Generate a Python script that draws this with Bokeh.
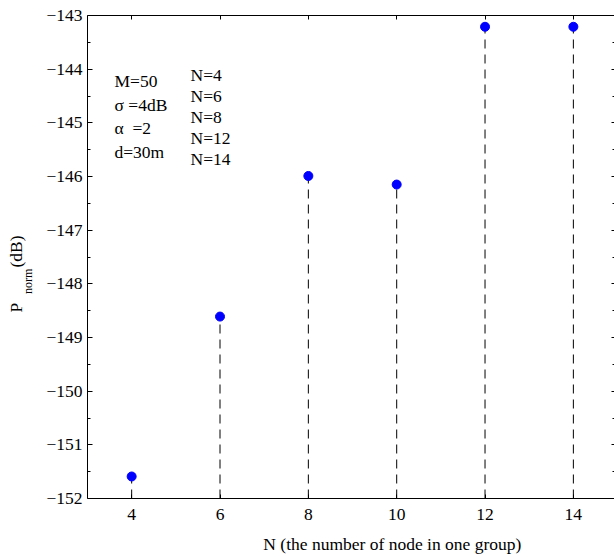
from bokeh.plotting import figure
from bokeh.models import Range1d, LinearAxis, FixedTicker, Label, ColumnDataSource
from bokeh.layouts import row, column
from bokeh.embed import file_html
from bokeh.resources import INLINE
import math

# ---- data ----
N_values = [4, 6, 8, 10, 12, 14]
P_norm = [-151.59, -148.61, -145.99, -146.15, -143.21, -143.21]
stem_base = -152
x_ticks = [4, 6, 8, 10, 12, 14]
y_ticks = [-152, -151, -150, -149, -148, -147, -146, -145, -144, -143]
y_tick_labels = ["\u2212152", "\u2212151", "\u2212150", "\u2212149", "\u2212148",
                 "\u2212147", "\u2212146", "\u2212145", "\u2212144", "\u2212143"]
y_minor = [-151.5, -150.5, -149.5, -148.5, -147.5, -146.5, -145.5, -144.5, -143.5]
params_text = ["M=50", "\u03c3 =4dB", "\u03b1\u00a0 =2", "d=30m"]
n_text = ["N=4", "N=6", "N=8", "N=12", "N=14"]
x_title = "N (the number of node in one group)"

FONT = "Liberation Serif"
FS = "17.5px"

TITLE_W = 40
W, H = 614, 557
MAIN_H = 531
OFF = 5.5  # renderer baseline offset correction (px)

src = ColumnDataSource(dict(x=N_values, y=P_norm, base=[stem_base] * len(N_values)))

# ---------------- main plot ----------------
p = figure(width=W - TITLE_W, height=MAIN_H, x_range=Range1d(3, 3 + 527 / 44.17),
           y_range=Range1d(-152, -143),
           output_backend="svg", toolbar_location=None,
           min_border_left=87 - TITLE_W, min_border_right=0, min_border_top=15,
           min_border_bottom=MAIN_H - 15 - 483)
p.grid.visible = False
p.outline_line_color = None
p.background_fill_color = "white"
p.border_fill_color = "white"

xa = p.xaxis[0]
xa.ticker = FixedTicker(ticks=x_ticks)
xa.major_tick_in = 4
xa.major_tick_out = 0
xa.minor_tick_line_color = None
xa.axis_line_color = "black"
xa.major_label_text_font = FONT
xa.major_label_text_font_size = FS
xa.major_label_text_color = "black"
xa.major_label_standoff = 10

ya = p.yaxis[0]
ya.ticker = FixedTicker(ticks=y_ticks, minor_ticks=y_minor)
ya.major_label_overrides = {t: l for t, l in zip(y_ticks, y_tick_labels)}
ya.major_tick_in = 5
ya.major_tick_out = 0
ya.minor_tick_in = 3
ya.minor_tick_out = 0
ya.axis_line_color = "black"
ya.major_label_text_font = FONT
ya.major_label_text_font_size = FS
ya.major_label_text_color = "black"
ya.major_label_standoff = 5

top = LinearAxis(ticker=FixedTicker(ticks=x_ticks), major_tick_in=4, major_tick_out=0,
                 minor_tick_line_color=None, major_label_text_font_size="0px",
                 major_label_text_color=None, major_label_standoff=0,
                 axis_line_color="black")
p.add_layout(top, "above")

right = LinearAxis(ticker=FixedTicker(ticks=y_ticks, minor_ticks=y_minor), major_tick_in=3,
                   major_tick_out=0, minor_tick_in=2, minor_tick_out=0,
                   major_label_text_font_size="0px", major_label_text_color=None,
                   major_label_standoff=0, axis_line_color=None)
p.add_layout(right, "right")

p.segment(x0="x", y0="base", x1="x", y1="y", source=src, line_color="black",
          line_width=1, line_dash="9 6")
p.scatter(x="x", y="y", source=src, size=9, fill_color="#0000ff", line_color="#0000ff")


def dx(px):
    return 3 + (px - 87) / 44.17


def dy(py):
    return -152 + (498.3 - py) / 53.67


param_baselines = [86, 109.8, 133.6, 157.3]
for t, b in zip(params_text, param_baselines):
    p.add_layout(Label(x=dx(114), y=dy(b - OFF), text=t, text_font=FONT, text_font_size=FS,
                       text_color="black", text_align="left", text_baseline="alphabetic"))

n_baselines = [80, 101, 122, 143, 164]
for t, b in zip(n_text, n_baselines):
    p.add_layout(Label(x=dx(190), y=dy(b - OFF), text=t, text_font=FONT, text_font_size=FS,
                       text_color="black", text_align="left", text_baseline="alphabetic"))

# ---------------- y title strip (coords = page pixels) ----------------
t = figure(width=TITLE_W, height=H, x_range=Range1d(0, TITLE_W), y_range=Range1d(H, 0),
           output_backend="svg", toolbar_location=None, x_axis_location=None,
           y_axis_location=None, min_border=0)
t.outline_line_color = None
t.xgrid.visible = False
t.ygrid.visible = False
t.add_layout(Label(x=20.5 - OFF, y=312, text="P", angle=math.pi / 2, text_font=FONT,
                   text_font_size=FS, text_color="black", text_align="left",
                   text_baseline="alphabetic"))
t.add_layout(Label(x=31 - 3.8, y=293.5, text="norm", angle=math.pi / 2, text_font=FONT,
                   text_font_size="12px", text_color="black", text_align="left",
                   text_baseline="alphabetic"))
t.add_layout(Label(x=20.5 - OFF, y=267, text="(dB)", angle=math.pi / 2, text_font=FONT,
                   text_font_size=FS, text_color="black", text_align="left",
                   text_baseline="alphabetic"))

# ---------------- x title strip (coords = page pixels) ----------------
xl = figure(width=W - TITLE_W, height=H - MAIN_H, x_range=Range1d(TITLE_W, W),
            y_range=Range1d(H, MAIN_H), output_backend="svg", toolbar_location=None,
            x_axis_location=None, y_axis_location=None, min_border=0)
xl.outline_line_color = None
xl.xgrid.visible = False
xl.ygrid.visible = False
xl.add_layout(Label(x=372, y=549 - OFF, text=x_title, text_font=FONT, text_font_size=FS,
                    text_color="black", text_align="center", text_baseline="alphabetic"))

layout = row(t, column(p, xl))
open("out.html", "w").write(file_html(layout, INLINE))
